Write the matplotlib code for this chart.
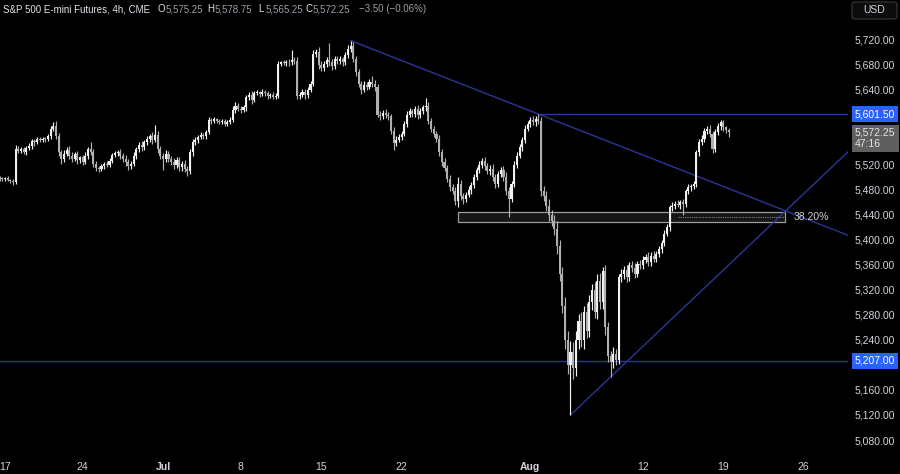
import numpy as np
import pandas as pd
import matplotlib
matplotlib.use("Agg")
import matplotlib.pyplot as plt
from matplotlib.patches import Rectangle, FancyBboxPatch
from matplotlib.transforms import blended_transform_factory

plt.rcParams['font.family'] = ['Liberation Sans', 'DejaVu Sans']

# ---------------- data (4h bars, S&P 500 E-mini futures) ----------------
first_open = 5499.0
closes = [
    5498, 5497,                                  # Jun 14
    5499, 5496, 5494, 5492, 5546, 5543,          # Jun 17
    5545, 5541, 5547, 5550, 5558, 5556,          # Jun 18
    5561, 5560, 5562, 5561, 5566,                # Jun 19
    5578, 5582, 5566, 5540, 5530, 5538,          # Jun 20
    5544, 5535, 5530, 5537, 5528, 5532,          # Jun 21
    5525, 5535, 5545, 5540, 5522, 5515,          # Jun 24
    5513, 5518, 5522, 5520, 5527, 5536,          # Jun 25
    5539, 5541, 5535, 5530, 5524, 5518,          # Jun 26
    5522, 5535, 5545, 5552, 5548, 5556,          # Jun 27
    5562, 5566, 5560, 5568, 5545, 5535,          # Jun 28
    5530, 5538, 5530, 5525, 5520, 5528,          # Jul 1
    5516, 5522, 5514, 5510, 5540, 5556,          # Jul 2
    5560, 5565, 5568, 5566, 5572, 5592,          # Jul 3
    5590, 5593, 5591, 5588, 5590,                # Jul 4
    5586, 5589, 5592, 5608, 5615, 5610,          # Jul 5
    5608, 5612, 5628, 5632, 5624, 5635,          # Jul 8
    5636, 5633, 5637, 5635, 5630, 5632,          # Jul 9
    5629, 5630, 5682, 5684, 5683, 5685,          # Jul 10
    5684, 5688, 5686, 5630, 5632, 5636,          # Jul 11
    5632, 5640, 5650, 5698, 5700, 5680,          # Jul 12
    5675, 5682, 5688, 5684, 5678, 5690,          # Jul 15
    5686, 5689, 5684, 5696, 5705, 5710,          # Jul 16
    5690, 5668, 5650, 5640, 5648, 5645,          # Jul 17
    5652, 5650, 5645, 5600, 5598, 5603,          # Jul 18
    5600, 5598, 5575, 5555, 5560, 5565,          # Jul 19
    5570, 5585, 5600, 5606, 5602, 5610,          # Jul 22
    5600, 5606, 5612, 5615, 5590, 5578,          # Jul 23
    5570, 5562, 5540, 5525, 5515, 5498,          # Jul 24
    5485, 5478, 5462, 5490, 5470, 5465,          # Jul 25
    5472, 5480, 5488, 5500, 5512, 5520,          # Jul 26
    5526, 5518, 5510, 5514, 5500, 5490,          # Jul 29
    5505, 5512, 5500, 5478, 5465, 5490,          # Jul 30
    5520, 5535, 5548, 5560, 5578, 5585,          # Jul 31
    5592, 5588, 5594, 5590, 5478, 5470,          # Aug 1
    5455, 5440, 5430, 5418, 5390, 5345,          # Aug 2
    5295, 5240, 5200, 5220, 5195, 5240,          # Aug 5
    5270, 5240, 5285, 5255, 5300, 5320,          # Aug 6
    5285, 5335, 5300, 5350, 5260, 5215,          # Aug 7
    5205, 5218, 5208, 5340, 5345, 5352,          # Aug 8
    5340, 5360, 5355, 5345, 5362, 5360,          # Aug 9
    5368, 5372, 5365, 5375, 5370, 5378,          # Aug 12
    5385, 5395, 5410, 5420, 5452, 5455,          # Aug 13
    5458, 5456, 5460, 5458, 5478, 5484,          # Aug 14
    5486, 5490, 5540, 5556, 5562, 5574,          # Aug 15
    5578, 5570, 5545, 5572, 5582, 5588,          # Aug 16
    5580, 5575.75, 5572.25,                      # Aug 19
]
wick_up = [
    3, 2,
    2, 3, 2, 3, 6, 4,
    3, 4, 3, 5, 3, 4,
    3, 4, 2, 3, 4,
    4, 6, 8, 5, 4, 6,
    4, 6, 5, 4, 6, 3,
    4, 5, 4, 12, 5, 4,
    3, 4, 3, 5, 4, 3,
    4, 3, 5, 4, 6, 5,
    4, 5, 3, 4, 6, 4,
    5, 4, 6, 16, 6, 5,
    4, 6, 5, 4, 6, 4,
    5, 4, 6, 4, 5, 6,
    4, 3, 5, 3, 4, 5,
    3, 4, 2, 3, 3,
    4, 3, 5, 6, 5, 4,
    5, 4, 4, 5, 6, 4,
    4, 3, 4, 3, 4, 3,
    4, 5, 4, 3, 4, 3,
    4, 16, 5, 6, 4, 5,
    6, 4, 5, 6, 5, 8,
    6, 5, 4, 27, 6, 5,
    4, 5, 4, 5, 7, 9,
    6, 5, 6, 5, 6, 5,
    5, 10, 6, 5, 6, 5,
    6, 5, 4, 5, 6, 5,
    4, 5, 6, 5, 4, 5,
    6, 5, 4, 12, 6, 5,
    4, 5, 6, 5, 6, 5,
    6, 5, 6, 10, 6, 5,
    5, 6, 5, 6, 5, 6,
    5, 6, 5, 6, 8, 5,
    6, 5, 6, 8, 6, 5,
    6, 5, 6, 5, 6, 5,
    5, 6, 4, 7.5, 6, 8,
    8, 10, 8, 10, 12, 10,
    12, 14, 15, 18, 16, 14,
    12, 15, 10, 14, 12, 10,
    12, 10, 12, 7, 10, 8,
    8, 10, 8, 6, 8, 6,
    8, 5, 6, 8, 5, 6,
    6, 5, 8, 6, 7, 5,
    6, 5, 6, 5, 4, 6,
    5, 6, 4, 5, 4, 5,
    4, 5, 4, 5, 6, 5,
    5, 6, 5, 6, 5, 4,
    4, 3, 3.5,
]
wick_dn = [
    3, 3,
    3, 2, 3, 4, 2, 4,
    4, 3, 5, 3, 4, 5,
    3, 4, 3, 4, 3,
    4, 3, 5, 6, 8, 5,
    4, 6, 5, 4, 6, 5,
    5, 4, 5, 4, 6, 5,
    4, 3, 5, 4, 3, 4,
    3, 4, 5, 6, 5, 6,
    4, 3, 5, 4, 5, 4,
    4, 5, 6, 4, 6, 5,
    18, 5, 6, 5, 6, 5,
    6, 5, 6, 7, 4, 5,
    4, 5, 3, 4, 5, 3,
    4, 3, 4, 3, 2,
    4, 3, 4, 3, 5, 4,
    5, 4, 5, 4, 6, 4,
    3, 4, 3, 4, 5, 3,
    4, 4, 3, 4, 3, 4,
    5, 4, 5, 4, 5, 4,
    6, 5, 4, 3, 5, 6,
    5, 4, 6, 5, 6, 4,
    4, 5, 6, 4, 5, 4,
    5, 6, 5, 6, 4, 5,
    4, 5, 6, 4, 6, 5,
    5, 6, 6, 11, 5, 4,
    5, 4, 5, 4, 6, 5,
    6, 5, 4, 5, 4, 6,
    5, 6, 5, 6, 5, 6,
    6, 5, 6, 10, 6, 7,
    5, 4, 6, 5, 4, 5,
    5, 6, 5, 6, 5, 7,
    6, 5, 6, 6, 28, 5,
    6, 5, 4, 6, 5, 4,
    5, 4, 6, 4, 8, 7,
    8, 9, 8, 10, 12, 11,
    12, 15, 14, 80, 18, 12,
    14, 12, 15, 12, 10, 12,
    10, 12, 11, 10, 12, 10,
    24, 10, 8, 6, 8, 7,
    8, 6, 7, 6, 5, 7,
    6, 5, 7, 6, 5, 6,
    5, 6, 5, 4, 5, 6,
    5, 4, 6, 18, 5, 4,
    5, 4, 6, 5, 4, 6,
    5, 6, 6, 5, 4, 6,
    5, 4, 7,
]

# calendar: trading days and number of 4h bars in each (shortened sessions noted)
calendar_start, calendar_end = "2024-06-14", "2024-08-30"
short_sessions = {"2024-06-14": 2, "2024-06-19": 5, "2024-07-04": 5}
tick_dates = ["2024-06-17", "2024-06-24", "2024-07-01", "2024-07-08", "2024-07-15",
              "2024-07-22", "2024-08-01", "2024-08-12", "2024-08-19", "2024-08-26"]
tick_labels = ["17", "24", "Jul", "8", "15", "22", "Aug", "12", "19", "26"]
month_labels = {"Jul", "Aug"}

price_ticks = [5080, 5120, 5160, 5240, 5280, 5320, 5360, 5400, 5440, 5480,
               5520, 5640, 5680, 5720]
support_level = 5207.0
fib_zone = [5429, 5445]          # 38.2% zone
fib_line = 5437
fib_zone_bars = [171, 293]
fib_line_start = 253
fib_text = "38.20%"

header_title = "S&P 500 E-mini Futures, 4h, CME"
header_ohlc = [("O", "5,575.25"), ("H", "5,578.75"), ("L", "5,565.25"), ("C", "5,572.25")]
header_change = "\u22123.50 (\u22120.06%)"
countdown = "47:16"

# ---------------- derived ----------------
closes = np.array(closes, dtype=float)
wick_up = np.array(wick_up, dtype=float)
wick_dn = np.array(wick_dn, dtype=float)
assert len(closes) == len(wick_up) == len(wick_dn)
opens = np.r_[first_open, closes[:-1]]
highs = np.maximum(opens, closes) + wick_up
lows = np.minimum(opens, closes) - wick_dn
idx = np.arange(len(closes))

days = pd.bdate_range(calendar_start, calendar_end)
day_keys = list(days.strftime("%Y-%m-%d"))
nbars = np.array([short_sessions.get(k, 6) for k in day_keys])
starts = np.r_[0, np.cumsum(nbars)[:-1]]
day_start = dict(zip(day_keys, starts))
tick_pos = [day_start[d] for d in tick_dates]

# ---------------- figure ----------------
W, H = 900, 474
fig = plt.figure(figsize=(W / 100, H / 100), dpi=100, facecolor="black")
ax = fig.add_axes([0, 22 / H, 848 / W, 452 / H])
ax.set_facecolor("black")
for s in ax.spines.values():
    s.set_visible(False)

px_per_bar = 2.68
x_left = tick_pos[0] - 5 / px_per_bar
x_right = x_left + 848 / px_per_bar
ax.set_xlim(x_left, x_right)
ax.set_ylim(5060.8, 5784)

line_col = "#2b3696"

# horizontal support line
ax.axhline(support_level, color=line_col, lw=1.0, zorder=1)

# fib zone
zone = Rectangle((fib_zone_bars[0], fib_zone[0]), fib_zone_bars[1] - fib_zone_bars[0],
                 fib_zone[1] - fib_zone[0], facecolor="#161616", edgecolor="#9c9c9c",
                 lw=0.9, zorder=1)
ax.add_patch(zone)
ax.plot([fib_line_start, fib_zone_bars[1]], [fib_line, fib_line], color="#7a7a7a",
        lw=0.8, ls=(0, (1, 1)), zorder=1.5)
ax.text(fib_zone_bars[1] + 3.3, fib_line, fib_text, color="#d1d4dc", fontsize=7.5,
        va="center", ha="left")

# downtrend line from top through Aug 1 peak
i_top = int(np.argmax(highs))
i_peak2 = int(np.argmax(np.where(idx > i_top + 40, highs, -np.inf)))
slope_d = (highs[i_peak2] - highs[i_top]) / (i_peak2 - i_top)
ax.plot([i_top, x_right], [highs[i_top], highs[i_top] + slope_d * (x_right - i_top)],
        color=line_col, lw=1.0, zorder=1)
# resistance horizontal from the Aug 1 peak
ax.plot([i_peak2, x_right], [highs[i_peak2]] * 2, color=line_col, lw=1.0, zorder=1)

# uptrend line from the low through the higher low
i_low = int(np.argmin(lows))
i_low2 = int(np.argmin(np.where(idx > i_low + 6, lows, np.inf)))
slope_u = (lows[i_low2] - lows[i_low]) / (i_low2 - i_low)
ax.plot([i_low, x_right], [lows[i_low], lows[i_low] + slope_u * (x_right - i_low)],
        color=line_col, lw=1.0, zorder=1)

# candles
up = closes >= opens
colors = np.where(up, "#f0f0f0", "#b0b0b0")
ax.vlines(idx, lows, highs, colors=colors, lw=0.85, zorder=3)
body_h = np.maximum(np.abs(closes - opens), 1.5)
ax.bar(idx, body_h, bottom=np.minimum(opens, closes), width=0.78, color=colors,
       linewidth=0, zorder=4)

# axes ticks
ax.yaxis.tick_right()
ax.set_yticks(price_ticks)
ax.set_yticklabels([f"{v:,.2f}" for v in price_ticks])
ax.tick_params(axis="y", length=0, pad=5, labelcolor="#d1d4dc", labelsize=7.5)
ax.set_xticks(tick_pos)
ax.set_xticklabels(tick_labels)
ax.tick_params(axis="x", length=0, pad=7, labelcolor="#d1d4dc", labelsize=7.5)
for lab in ax.get_xticklabels():
    if lab.get_text() in month_labels:
        lab.set_fontweight("bold")

# price scale labels
tr = blended_transform_factory(fig.transFigure, ax.transData)
lx = 855 / W
ax.text(lx, highs[i_peak2], f"{highs[i_peak2]:,.2f}", transform=tr, color="white",
        fontsize=7.5, va="center", ha="left", clip_on=False, zorder=10,
        bbox=dict(boxstyle="square,pad=0.28", fc="#2962ff", ec="none"))
ax.text(lx, support_level, f"{support_level:,.2f}", transform=tr, color="white",
        fontsize=7.5, va="center", ha="left", clip_on=False, zorder=10,
        bbox=dict(boxstyle="square,pad=0.28", fc="#2962ff", ec="none"))
ax.annotate(f"{closes[-1]:,.2f}\n{countdown}", xy=(lx, closes[-1]), xycoords=tr,
            xytext=(0, -4.5), textcoords="offset points", color="#e6e6e6",
            fontsize=7.5, va="center", ha="left", linespacing=1.15,
            annotation_clip=False, zorder=10,
            bbox=dict(boxstyle="square,pad=0.3", fc="#5f5f5f", ec="none"))

# USD box
usd = FancyBboxPatch((852 / W, 1 - 19 / H), 45 / W, 17 / H, transform=fig.transFigure,
                     boxstyle="round,pad=0,rounding_size=0.004", fc="#0c0c0c",
                     ec="#3a3a3a", lw=0.8)
fig.patches.append(usd)
fig.text(874.5 / W, 1 - 10 / H, "USD", color="#d1d4dc", fontsize=7.5,
         ha="center", va="center")

# header
hy = 1 - 9 / H
fig.text(3 / W, hy, header_title, color="#e0e3eb", fontsize=7.0, va="center", ha="left")
for (letter, val), x0 in zip(header_ohlc, [158, 207, 258, 305]):
    fig.text(x0 / W, hy, letter, color="#e0e3eb", fontsize=7.0, va="center", ha="left")
    fig.text((x0 + 8) / W, hy, val, color="#9a9ea8", fontsize=7.0, va="center", ha="left")
fig.text(359 / W, hy, header_change, color="#9a9ea8", fontsize=7.0, va="center", ha="left")

fig.savefig("out.png", dpi=100, facecolor="black")
